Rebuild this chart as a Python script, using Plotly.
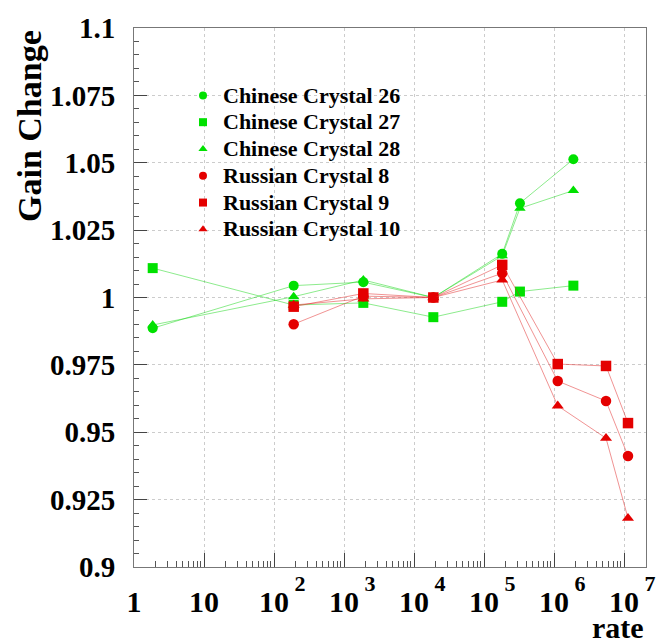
import plotly.graph_objects as go

# ---- data ----
rate_chinese = [1.85, 191, 1888, 18880, 182000, 326000, 1.89e6]
chinese_26 = [0.9886, 1.0044, 1.0057, 1.0000, 1.0162, 1.0350, 1.0513]
chinese_27 = [1.0109, 0.9972, 0.9980, 0.9927, 0.9984, 1.0022, 1.0044]
chinese_28 = [0.9898, 1.0003, 1.0065, 1.0000, 1.0155, 1.0331, 1.0397]

rate_russian = [191, 1888, 18880, 182000, 1.13e6, 5.53e6, 1.14e7]
russian_8 = [0.9901, 1.0005, 1.0000, 1.0090, 0.9690, 0.9616, 0.9412]
russian_9 = [0.9966, 1.0015, 1.0000, 1.0121, 0.9753, 0.9746, 0.9534]
russian_10 = [0.9972, 0.9995, 1.0000, 1.0065, 0.9598, 0.9478, 0.9181]

x_tickvals = [1, 10, 100, 1e3, 1e4, 1e5, 1e6, 1e7]
x_exponents = ["", "", "2", "3", "4", "5", "6", "7"]
x_bases = ["1", "10", "10", "10", "10", "10", "10", "10"]
y_tickvals = [0.9, 0.925, 0.95, 0.975, 1.0, 1.025, 1.05, 1.075, 1.1]
y_ticktext = ["0.9", "0.925", "0.95", "0.975", "1", "1.025", "1.05", "1.075", "1.1"]

GREEN = "rgb(0,225,0)"
RED = "rgb(228,0,0)"
GREEN_LINE = "rgba(0,210,0,0.45)"
RED_LINE = "rgba(225,40,40,0.5)"
FONT = "Liberation Serif"


def exp_label(base, exp):
    if not exp:
        return base
    pad = "<span style='font-size:22px'>&nbsp;&nbsp;&nbsp;</span>"
    sup = ("<span style='font-size:50px'><sup><span style='font-size:22px'>&nbsp;"
           + exp + "</span></sup></span>")
    return pad + base + sup


x_ticktext = [exp_label(b, e) for b, e in zip(x_bases, x_exponents)]

series = [
    ("Chinese Crystal 26", rate_chinese, chinese_26, GREEN, GREEN_LINE, "circle", 10),
    ("Chinese Crystal 27", rate_chinese, chinese_27, GREEN, GREEN_LINE, "square", 10),
    ("Chinese Crystal 28", rate_chinese, chinese_28, GREEN, GREEN_LINE, "triangle-up", 10),
    ("Russian Crystal 8", rate_russian, russian_8, RED, RED_LINE, "circle", 10.5),
    ("Russian Crystal 9", rate_russian, russian_9, RED, RED_LINE, "square", 10.5),
    ("Russian Crystal 10", rate_russian, russian_10, RED, RED_LINE, "triangle-up", 10.5),
]

fig = go.Figure()
for name, xs, ys, col, lcol, sym, sz in series:
    fig.add_trace(go.Scatter(
        x=xs, y=ys, name=name, mode="lines+markers", showlegend=False,
        line=dict(color=lcol, width=1),
        marker=dict(color=col, symbol=sym, size=sz, line=dict(width=0)),
    ))
# legend entries (marker only, as in the reference)
for name, xs, ys, col, lcol, sym, sz in series:
    fig.add_trace(go.Scatter(
        x=[None], y=[None], mode="markers", showlegend=True,
        name=f"<span style='font-size:22px'>{name}</span>",
        marker=dict(color=col, symbol=sym, size=8, line=dict(width=0)),
    ))

minor_x = [m * 10 ** e for e in range(0, 7) for m in range(2, 10)] + [2e7]

fig.update_layout(
    width=659, height=644,
    margin=dict(l=134, r=13, t=28, b=77, autoexpand=False),
    paper_bgcolor="white", plot_bgcolor="white",
    font=dict(family=FONT, color="black"),
    showlegend=True,
    legend=dict(
        x=(183 - 134) / 512, y=1 - (77 - 28) / 539, xanchor="left", yanchor="top",
        bgcolor="rgba(0,0,0,0)", borderwidth=0,
        font=dict(family=FONT, size=18.3, weight="bold", color="black"),
        tracegroupgap=0, itemwidth=30,
    ),
    xaxis=dict(
        type="log", range=[0, 7.314], automargin=False,
        tickmode="array", tickvals=x_tickvals, ticktext=x_ticktext,
        ticks="inside", ticklen=14, tickcolor="#444", tickwidth=1,
        tickfont=dict(family=FONT, size=30, weight="bold", color="black"),
        ticklabelstandoff=8,
        showgrid=True, gridcolor="#cccccc", griddash="dot", gridwidth=1,
        showline=True, linecolor="#777", linewidth=1, mirror=True,
        zeroline=False,
        minor=dict(tickmode="array", tickvals=minor_x, ticks="inside", ticklen=6,
                   tickcolor="#555", showgrid=False),
    ),
    yaxis=dict(
        range=[0.9, 1.1], automargin=False,
        tickmode="array", tickvals=y_tickvals, ticktext=y_ticktext,
        ticks="inside", ticklen=13, tickcolor="#444", tickwidth=1,
        tickfont=dict(family=FONT, size=29, weight="bold", color="black"),
        ticklabelstandoff=12,
        showgrid=True, gridcolor="#cccccc", griddash="dot", gridwidth=1,
        showline=True, linecolor="#777", linewidth=1, mirror=True,
        zeroline=False,
        minor=dict(tickmode="linear", tick0=0.9, dtick=0.005, ticks="inside",
                   ticklen=5, tickcolor="#555", showgrid=False),
    ),
    annotations=[
        dict(text="Gain Change", xref="paper", yref="paper",
             x=(29 - 134) / 512, y=1.0, xanchor="center", yanchor="top",
             textangle=-90, showarrow=False,
             font=dict(family=FONT, size=34, weight="bold", color="black")),
        dict(text="rate", xref="paper", yref="paper",
             x=(618 - 134) / 512, y=-(627 - 567) / 539, xanchor="center", yanchor="middle",
             showarrow=False,
             font=dict(family=FONT, size=30, weight="bold", color="black")),
    ],
)

fig.write_html("out.html")
